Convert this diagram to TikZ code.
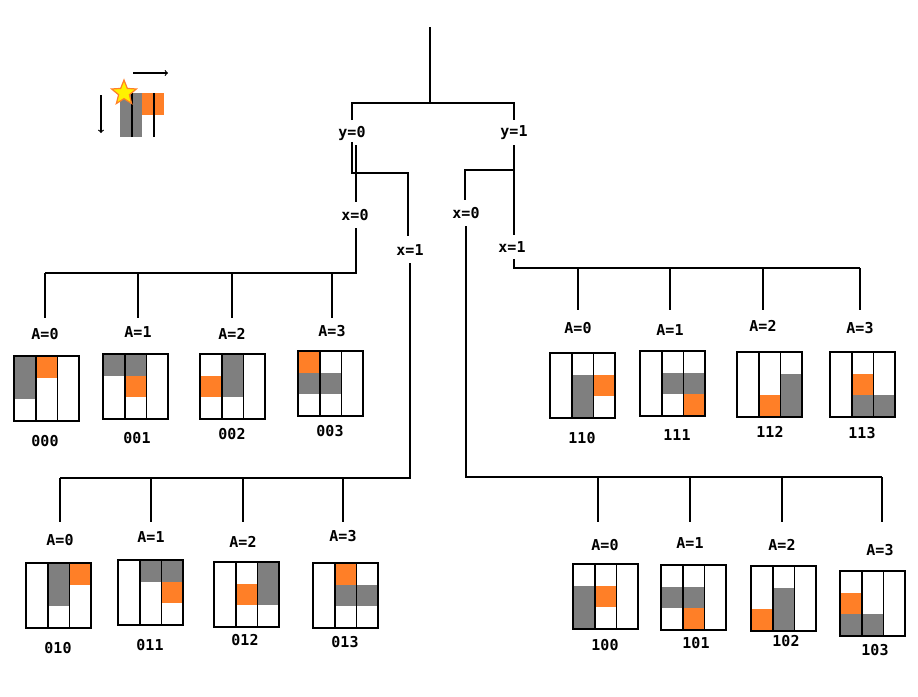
\documentclass[tikz,border=0pt]{standalone}
\usepackage{fontspec}
\setmonofont{DejaVu Sans Mono}
\usetikzlibrary{shapes.geometric}
\definecolor{og}{HTML}{FF7F27}
\definecolor{gr}{HTML}{7F7F7F}
\newcommand\mygrid[5]{% x y gray-list orange(r,c) name
  \begin{scope}[shift={(#1,#2)}]
  \foreach \r/\c in {#3} \fill[gr] (\c*21.7,\r*21.7) rectangle ++(21.7,21.7);
  \foreach \r/\c in {#4} \fill[og] (\c*21.7,\r*21.7) rectangle ++(21.7,21.7);
  \draw[line width=1.6pt] (0,0) grid[step=21.7] (65.1,65.1);
  \draw[line width=2pt] (0,0) rectangle (65.1,65.1);
  \coordinate (#5) at (32.5,0);
  \end{scope}}
\begin{document}
\begin{tikzpicture}[x=1pt,y=-1pt,line width=1.6pt,
  lab/.style={font=\ttfamily\bfseries\fontsize{15}{15}\selectfont,inner sep=1pt}]
\useasboundingbox (0,0) rectangle (918,696);
% tree lines
\draw (430,27) -- (430,103);
\draw (352,120) -- (352,103) -- (514,103) -- (514,120);
\node[lab] (y0) at (352,133) {y=0};
\node[lab] (y1) at (514,133) {y=1};
\draw (y0.south) ++(0,0) |- (408,173) -- (408,236);
\draw (356,145) -- (356,202);
\node[lab] (x00) at (355,215) {x=0};
\node[lab] (x01) at (410,250) {x=1};
\draw (356,228) -- (356,273) -- (45,273);
\foreach \x in {45,138,232,332} \draw (\x,273) -- (\x,318);
\draw (410,263) -- (410,478) -- (60,478);
\foreach \x in {60,151,243,343} \draw (\x,478) -- (\x,522);
\draw (514,145) -- (514,235);
\draw (514,170) -- (465,170) -- (465,200);
\node[lab] (x10) at (466,213) {x=0};
\node[lab] (x11) at (512,247) {x=1};
\draw (514,259) -- (514,268) -- (860,268);
\foreach \x in {578,670,763,860} \draw (\x,268) -- (\x,310);
\draw (466,226) -- (466,477) -- (882,477);
\foreach \x in {598,690,782,882} \draw (\x,477) -- (\x,522);
% grids
\mygrid{14}{356}{0/0,1/0}{0/1}{g000}
\mygrid{103}{354}{0/0,0/1}{1/1}{g001}
\mygrid{200}{354}{0/1,1/1}{1/0}{g002}
\mygrid{298}{351}{1/0,1/1}{0/0}{g003}
\mygrid{550}{353}{1/1,2/1}{1/2}{g110}
\mygrid{640}{351}{1/1,1/2}{2/2}{g111}
\mygrid{737}{352}{1/2,2/2}{2/1}{g112}
\mygrid{830}{352}{2/1,2/2}{1/1}{g113}
\mygrid{26}{563}{0/1,1/1}{0/2}{g010}
\mygrid{118}{560}{0/1,0/2}{1/2}{g011}
\mygrid{214}{562}{0/2,1/2}{1/1}{g012}
\mygrid{313}{563}{1/1,1/2}{0/1}{g013}
\mygrid{573}{564}{1/0,2/0}{1/1}{g100}
\mygrid{661}{565}{1/0,1/1}{2/1}{g101}
\mygrid{751}{566}{1/1,2/1}{2/0}{g102}
\mygrid{840}{571}{2/0,2/1}{1/0}{g103}
% labels
\foreach \x/\y/\t/\n in {45/334/0/a1,138/332/1/a2,232/334/2/a3,332/331/3/a4,
  578/328/0/a5,670/330/1/a6,763/326/2/a7,860/328/3/a8,
  60/540/0/a9,151/537/1/a10,243/542/2/a11,343/536/3/a12,
  605/545/0/a13,690/543/1/a14,782/545/2/a15,880/550/3/a16}
  \node[lab] (\n) at (\x,\y) {A=\t};
\foreach \x/\y/\t in {45/441/000,137/438/001,232/434/002,330/431/003,
  582/438/110,677/435/111,770/432/112,862/433/113,
  58/648/010,150/645/011,245/640/012,345/642/013,
  605/645/100,696/643/101,786/641/102,875/650/103}
  \node[lab] (c\t) at (\x,\y) {\t};
% legend
\fill[gr] (120,93) rectangle (142,115);
\fill[og] (142,93) rectangle (164,115);
\fill[gr] (120,115) rectangle (142,137);
\draw[line width=1.6pt] (120,93) grid[step=22] (164,137);
\node[star,star points=5,star point ratio=2.3,fill=yellow,draw=og,line width=1.2pt,minimum size=26pt,inner sep=0pt] (st) at (124,93) {};
\coordinate (ar1) at (133,73); \coordinate (ar2) at (168,73);
\draw[->,line width=1.2pt] (ar1) -- (ar2);
\coordinate (ad1) at (101,95); \coordinate (ad2) at (101,133);
\draw[->,line width=1.2pt] (ad1) -- (ad2);
\end{tikzpicture}
\end{document}
